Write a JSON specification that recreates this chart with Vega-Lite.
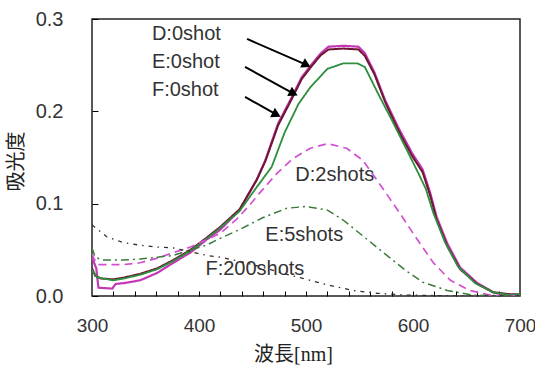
{
  "$schema": "https://vega.github.io/schema/vega-lite/v6.json",
  "width": 428,
  "height": 277,
  "autosize": {"type": "none"},
  "padding": {"left": 92, "top": 19, "right": 15, "bottom": 71},
  "background": "white",
  "config": {"view": {"stroke": "#222", "strokeWidth": 1.5}, "font": "Liberation Sans"},
  "resolve": {"axis": {"x": "independent"}},
  "datasets": {
    "spectra": [
      {"series": "D:0shot", "nm": 300, "A": 0.042}, {"series": "D:0shot", "nm": 304, "A": 0.03}, {"series": "D:0shot", "nm": 306, "A": 0.009}, {"series": "D:0shot", "nm": 319, "A": 0.008}, {"series": "D:0shot", "nm": 322, "A": 0.013}, {"series": "D:0shot", "nm": 330, "A": 0.014}, {"series": "D:0shot", "nm": 345, "A": 0.017}, {"series": "D:0shot", "nm": 361, "A": 0.025}, {"series": "D:0shot", "nm": 376, "A": 0.036}, {"series": "D:0shot", "nm": 392, "A": 0.047}, {"series": "D:0shot", "nm": 407, "A": 0.061}, {"series": "D:0shot", "nm": 420, "A": 0.072}, {"series": "D:0shot", "nm": 438, "A": 0.093}, {"series": "D:0shot", "nm": 454, "A": 0.126}, {"series": "D:0shot", "nm": 462, "A": 0.147}, {"series": "D:0shot", "nm": 474, "A": 0.187}, {"series": "D:0shot", "nm": 487, "A": 0.216}, {"series": "D:0shot", "nm": 496, "A": 0.237}, {"series": "D:0shot", "nm": 506, "A": 0.252}, {"series": "D:0shot", "nm": 514, "A": 0.263}, {"series": "D:0shot", "nm": 521, "A": 0.27}, {"series": "D:0shot", "nm": 535, "A": 0.271}, {"series": "D:0shot", "nm": 549, "A": 0.27}, {"series": "D:0shot", "nm": 555, "A": 0.263}, {"series": "D:0shot", "nm": 564, "A": 0.242}, {"series": "D:0shot", "nm": 574, "A": 0.212}, {"series": "D:0shot", "nm": 586, "A": 0.183}, {"series": "D:0shot", "nm": 599, "A": 0.155}, {"series": "D:0shot", "nm": 609, "A": 0.137}, {"series": "D:0shot", "nm": 616, "A": 0.112}, {"series": "D:0shot", "nm": 622, "A": 0.086}, {"series": "D:0shot", "nm": 632, "A": 0.057}, {"series": "D:0shot", "nm": 644, "A": 0.031}, {"series": "D:0shot", "nm": 660, "A": 0.014}, {"series": "D:0shot", "nm": 675, "A": 0.004}, {"series": "D:0shot", "nm": 690, "A": 0.001}, {"series": "D:0shot", "nm": 700, "A": 0.001},
      {"series": "F:0shot", "nm": 300, "A": 0.03}, {"series": "F:0shot", "nm": 303, "A": 0.022}, {"series": "F:0shot", "nm": 308, "A": 0.019}, {"series": "F:0shot", "nm": 320, "A": 0.018}, {"series": "F:0shot", "nm": 330, "A": 0.02}, {"series": "F:0shot", "nm": 345, "A": 0.024}, {"series": "F:0shot", "nm": 361, "A": 0.03}, {"series": "F:0shot", "nm": 376, "A": 0.039}, {"series": "F:0shot", "nm": 392, "A": 0.05}, {"series": "F:0shot", "nm": 407, "A": 0.063}, {"series": "F:0shot", "nm": 420, "A": 0.075}, {"series": "F:0shot", "nm": 438, "A": 0.094}, {"series": "F:0shot", "nm": 454, "A": 0.126}, {"series": "F:0shot", "nm": 462, "A": 0.146}, {"series": "F:0shot", "nm": 474, "A": 0.185}, {"series": "F:0shot", "nm": 487, "A": 0.214}, {"series": "F:0shot", "nm": 496, "A": 0.235}, {"series": "F:0shot", "nm": 506, "A": 0.25}, {"series": "F:0shot", "nm": 514, "A": 0.261}, {"series": "F:0shot", "nm": 521, "A": 0.267}, {"series": "F:0shot", "nm": 535, "A": 0.268}, {"series": "F:0shot", "nm": 549, "A": 0.267}, {"series": "F:0shot", "nm": 555, "A": 0.26}, {"series": "F:0shot", "nm": 564, "A": 0.24}, {"series": "F:0shot", "nm": 574, "A": 0.21}, {"series": "F:0shot", "nm": 586, "A": 0.18}, {"series": "F:0shot", "nm": 599, "A": 0.152}, {"series": "F:0shot", "nm": 609, "A": 0.134}, {"series": "F:0shot", "nm": 616, "A": 0.109}, {"series": "F:0shot", "nm": 622, "A": 0.083}, {"series": "F:0shot", "nm": 632, "A": 0.054}, {"series": "F:0shot", "nm": 644, "A": 0.029}, {"series": "F:0shot", "nm": 660, "A": 0.013}, {"series": "F:0shot", "nm": 675, "A": 0.004}, {"series": "F:0shot", "nm": 690, "A": 0.002}, {"series": "F:0shot", "nm": 700, "A": 0.002},
      {"series": "E:0shot", "nm": 300, "A": 0.028}, {"series": "E:0shot", "nm": 305, "A": 0.02}, {"series": "E:0shot", "nm": 320, "A": 0.017}, {"series": "E:0shot", "nm": 330, "A": 0.019}, {"series": "E:0shot", "nm": 345, "A": 0.023}, {"series": "E:0shot", "nm": 361, "A": 0.029}, {"series": "E:0shot", "nm": 376, "A": 0.038}, {"series": "E:0shot", "nm": 392, "A": 0.049}, {"series": "E:0shot", "nm": 407, "A": 0.062}, {"series": "E:0shot", "nm": 420, "A": 0.074}, {"series": "E:0shot", "nm": 438, "A": 0.092}, {"series": "E:0shot", "nm": 454, "A": 0.118}, {"series": "E:0shot", "nm": 468, "A": 0.14}, {"series": "E:0shot", "nm": 480, "A": 0.177}, {"series": "E:0shot", "nm": 493, "A": 0.208}, {"series": "E:0shot", "nm": 504, "A": 0.226}, {"series": "E:0shot", "nm": 520, "A": 0.246}, {"series": "E:0shot", "nm": 535, "A": 0.252}, {"series": "E:0shot", "nm": 548, "A": 0.252}, {"series": "E:0shot", "nm": 555, "A": 0.248}, {"series": "E:0shot", "nm": 567, "A": 0.22}, {"series": "E:0shot", "nm": 580, "A": 0.191}, {"series": "E:0shot", "nm": 593, "A": 0.161}, {"series": "E:0shot", "nm": 605, "A": 0.133}, {"series": "E:0shot", "nm": 612, "A": 0.116}, {"series": "E:0shot", "nm": 619, "A": 0.09}, {"series": "E:0shot", "nm": 630, "A": 0.058}, {"series": "E:0shot", "nm": 642, "A": 0.032}, {"series": "E:0shot", "nm": 658, "A": 0.014}, {"series": "E:0shot", "nm": 675, "A": 0.004}, {"series": "E:0shot", "nm": 690, "A": 0.001}, {"series": "E:0shot", "nm": 700, "A": 0.002},
      {"series": "D:2shots", "nm": 300, "A": 0.046}, {"series": "D:2shots", "nm": 302, "A": 0.04}, {"series": "D:2shots", "nm": 306, "A": 0.034}, {"series": "D:2shots", "nm": 329, "A": 0.034}, {"series": "D:2shots", "nm": 345, "A": 0.036}, {"series": "D:2shots", "nm": 361, "A": 0.041}, {"series": "D:2shots", "nm": 376, "A": 0.047}, {"series": "D:2shots", "nm": 392, "A": 0.053}, {"series": "D:2shots", "nm": 407, "A": 0.061}, {"series": "D:2shots", "nm": 420, "A": 0.068}, {"series": "D:2shots", "nm": 435, "A": 0.083}, {"series": "D:2shots", "nm": 447, "A": 0.098}, {"series": "D:2shots", "nm": 457, "A": 0.112}, {"series": "D:2shots", "nm": 473, "A": 0.133}, {"series": "D:2shots", "nm": 488, "A": 0.149}, {"series": "D:2shots", "nm": 504, "A": 0.16}, {"series": "D:2shots", "nm": 520, "A": 0.165}, {"series": "D:2shots", "nm": 538, "A": 0.16}, {"series": "D:2shots", "nm": 553, "A": 0.147}, {"series": "D:2shots", "nm": 566, "A": 0.126}, {"series": "D:2shots", "nm": 578, "A": 0.106}, {"series": "D:2shots", "nm": 591, "A": 0.084}, {"series": "D:2shots", "nm": 600, "A": 0.068}, {"series": "D:2shots", "nm": 619, "A": 0.036}, {"series": "D:2shots", "nm": 635, "A": 0.017}, {"series": "D:2shots", "nm": 653, "A": 0.006}, {"series": "D:2shots", "nm": 672, "A": 0.001}, {"series": "D:2shots", "nm": 700, "A": 0.0},
      {"series": "E:5shots", "nm": 300, "A": 0.052}, {"series": "E:5shots", "nm": 303, "A": 0.042}, {"series": "E:5shots", "nm": 310, "A": 0.039}, {"series": "E:5shots", "nm": 329, "A": 0.039}, {"series": "E:5shots", "nm": 345, "A": 0.04}, {"series": "E:5shots", "nm": 361, "A": 0.042}, {"series": "E:5shots", "nm": 376, "A": 0.044}, {"series": "E:5shots", "nm": 392, "A": 0.05}, {"series": "E:5shots", "nm": 407, "A": 0.055}, {"series": "E:5shots", "nm": 417, "A": 0.061}, {"series": "E:5shots", "nm": 438, "A": 0.072}, {"series": "E:5shots", "nm": 460, "A": 0.085}, {"series": "E:5shots", "nm": 482, "A": 0.095}, {"series": "E:5shots", "nm": 500, "A": 0.097}, {"series": "E:5shots", "nm": 520, "A": 0.093}, {"series": "E:5shots", "nm": 535, "A": 0.082}, {"series": "E:5shots", "nm": 550, "A": 0.068}, {"series": "E:5shots", "nm": 566, "A": 0.053}, {"series": "E:5shots", "nm": 581, "A": 0.039}, {"series": "E:5shots", "nm": 594, "A": 0.027}, {"series": "E:5shots", "nm": 609, "A": 0.015}, {"series": "E:5shots", "nm": 632, "A": 0.006}, {"series": "E:5shots", "nm": 656, "A": 0.001}, {"series": "E:5shots", "nm": 700, "A": 0.0},
      {"series": "F:200shots", "nm": 300, "A": 0.077}, {"series": "F:200shots", "nm": 314, "A": 0.064}, {"series": "F:200shots", "nm": 329, "A": 0.058}, {"series": "F:200shots", "nm": 345, "A": 0.055}, {"series": "F:200shots", "nm": 361, "A": 0.053}, {"series": "F:200shots", "nm": 376, "A": 0.052}, {"series": "F:200shots", "nm": 392, "A": 0.048}, {"series": "F:200shots", "nm": 407, "A": 0.044}, {"series": "F:200shots", "nm": 420, "A": 0.042}, {"series": "F:200shots", "nm": 440, "A": 0.037}, {"series": "F:200shots", "nm": 460, "A": 0.031}, {"series": "F:200shots", "nm": 480, "A": 0.024}, {"series": "F:200shots", "nm": 504, "A": 0.017}, {"series": "F:200shots", "nm": 520, "A": 0.012}, {"series": "F:200shots", "nm": 544, "A": 0.006}, {"series": "F:200shots", "nm": 566, "A": 0.003}, {"series": "F:200shots", "nm": 594, "A": 0.001}, {"series": "F:200shots", "nm": 650, "A": 0.0}, {"series": "F:200shots", "nm": 700, "A": 0.0}
    ],
    "labels": [
      {"text": "D:0shot", "nm": 356, "A": 0.284},
      {"text": "E:0shot", "nm": 356, "A": 0.2535},
      {"text": "F:0shot", "nm": 356, "A": 0.223},
      {"text": "D:2shots", "nm": 490, "A": 0.131},
      {"text": "E:5shots", "nm": 462, "A": 0.066},
      {"text": "F:200shots", "nm": 406, "A": 0.029}
    ],
    "arrows": [
      {"nm": 444.9, "A": 0.2784, "nm2": 500.5, "A2": 0.2503},
      {"nm": 443.0, "A": 0.2481, "nm2": 488.4, "A2": 0.2193},
      {"nm": 443.0, "A": 0.2156, "nm2": 472.5, "A2": 0.1965}
    ]
  },
  "layer": [
    {
      "data": {"name": "spectra"},
      "mark": {"type": "line", "clip": true},
      "encoding": {
        "x": {
          "field": "nm", "type": "quantitative",
          "scale": {"domain": [300, 700], "nice": false, "zero": false},
          "axis": {
            "orient": "bottom",
            "values": [320, 340, 360, 380, 400, 420, 440, 460, 480, 500, 520, 540, 560, 580, 600, 620, 640, 660, 680],
            "labels": false, "title": null,
            "grid": false, "domain": false, "tickSize": -5, "tickColor": "#000", "tickWidth": 1
          }
        },
        "y": {
          "field": "A", "type": "quantitative",
          "scale": {"domain": [0, 0.3], "nice": false},
          "axis": {
            "values": [0, 0.1, 0.2, 0.3], "format": ".1f",
            "grid": false, "domain": false, "tickSize": -6, "tickColor": "#000", "tickWidth": 1,
            "labelFontSize": 20, "labelColor": "#333", "labelPadding": 35, "labelDy": 3, "labelFlush": false,
            "title": "吸光度", "titleFont": "Noto Sans CJK JP", "titleFontSize": 20, "titleFontWeight": "normal", "titleColor": "#222",
            "titleX": -76, "titleY": 142, "titleBaseline": "middle", "titleAlign": "center"
          }
        },
        "color": {
          "field": "series", "type": "nominal",
          "scale": {"domain": ["D:0shot", "F:0shot", "E:0shot", "D:2shots", "E:5shots", "F:200shots"], "range": ["#C437B8", "#6E1730", "#2F8F3F", "#D24FD2", "#3A7A3A", "#3A2A2A"]},
          "legend": null
        },
        "strokeDash": {
          "field": "series", "type": "nominal",
          "scale": {"domain": ["D:0shot", "F:0shot", "E:0shot", "D:2shots", "E:5shots", "F:200shots"], "range": [[1, 0], [1, 0], [1, 0], [8, 5], [8, 4, 2, 4], [4, 5, 1.5, 5]]},
          "legend": null
        },
        "strokeWidth": {
          "field": "series", "type": "nominal",
          "scale": {"domain": ["D:0shot", "F:0shot", "E:0shot", "D:2shots", "E:5shots", "F:200shots"], "range": [2.2, 1.3, 1.2, 1.3, 1.3, 1.5]},
          "legend": null
        }
      }
    },
    {
      "data": {"name": "arrows"},
      "mark": {"type": "rule", "color": "#000", "strokeWidth": 2},
      "encoding": {
        "x": {"field": "nm", "type": "quantitative", "axis": null},
        "y": {"field": "A", "type": "quantitative"},
        "x2": {"field": "nm2"},
        "y2": {"field": "A2"}
      }
    },
    {
      "data": {"name": "arrows"},
      "mark": {"type": "point", "shape": "triangle-right", "filled": true, "color": "#000", "size": 110, "angle": 27, "opacity": 1},
      "encoding": {
        "x": {"field": "nm2", "type": "quantitative", "axis": null},
        "y": {"field": "A2", "type": "quantitative"}
      }
    },
    {
      "data": {"name": "labels"},
      "mark": {"type": "text", "align": "left", "baseline": "middle", "fontSize": 20, "color": "#333", "font": "Liberation Sans"},
      "encoding": {
        "x": {
          "field": "nm", "type": "quantitative",
          "axis": {
            "orient": "bottom",
            "values": [300, 400, 500, 600, 700], "format": "d",
            "grid": false, "domain": false, "ticks": false,
            "labelFontSize": 19, "labelColor": "#333", "labelPadding": 20, "labelDx": -5, "labelFlush": false, "labelOverlap": false,
            "title": "波長[nm]", "titleFont": "Liberation Serif, Noto Sans CJK JP", "titleFontSize": 20, "titleFontWeight": "normal", "titleColor": "#222",
            "titleX": 201, "titleY": 58, "titleBaseline": "middle", "titleAlign": "center"
          }
        },
        "y": {"field": "A", "type": "quantitative"},
        "text": {"field": "text"}
      }
    }
  ]
}
